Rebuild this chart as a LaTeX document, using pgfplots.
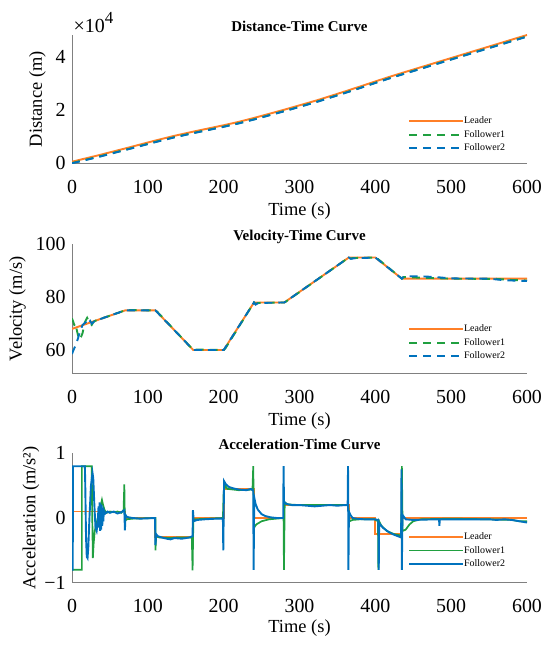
\documentclass[border=0pt]{standalone}
\usepackage{fontspec}
\setmainfont{Liberation Serif}
\usepackage{pgfplots}
\pgfplotsset{compat=1.18}
\definecolor{cL}{RGB}{255,127,39}
\definecolor{cF1}{RGB}{32,160,64}
\definecolor{cF2}{RGB}{0,114,189}
\definecolor{axgray}{RGB}{128,128,128}
\pgfplotsset{
 myaxis/.style={
  scale only axis, width=455bp, xmin=0, xmax=600,
  axis lines=left, axis line style={-, draw=axgray, line width=0.9bp},
  major tick length=0pt, clip mode=individual,
  xtick={0,100,200,300,400,500,600}, xticklabels={0,100,200,300,400,500,600},
  tick label style={font=\fontsize{20}{20}\selectfont},
  xticklabel style={yshift=-13bp},
  yticklabel style={xshift=-3bp},
  label style={font=\fontsize{18.5}{18.5}\selectfont},
  xlabel={Time (s)},
  xlabel style={at={(axis description cs:0.5,0)}, anchor=center, yshift=-48bp},
  title style={font=\bfseries\fontsize{15}{15}\selectfont, at={(axis description cs:0.5,1)}, anchor=base, yshift=-2bp},
  legend style={draw=none, fill=none, font=\fontsize{10}{10}\selectfont, inner sep=0pt,
    nodes={inner sep=0pt, text height=7bp, text depth=2bp}, row sep=4.6bp,
    /tikz/every even column/.append style={column sep=4bp}},
  legend cell align=left,
  legend image code/.code={\draw[#1] (0bp,0bp) -- (54bp,0bp);},
 }
}
\begin{document}
\begin{tikzpicture}
\useasboundingbox (0,0) rectangle (550bp,-646bp);
% ---------------- Distance ----------------
\begin{axis}[myaxis, at={(72bp,-163.3bp)}, anchor=south west, height=128.3bp,
  ymin=0, ymax=48477, ytick={0,20000,40000}, yticklabels={0,2,4}, scaled y ticks=false,
  ylabel={Distance (m)}, ylabel style={at={(axis description cs:-0.0758,0.5)}, anchor=center},
  title={Distance-Time Curve},
  legend style={at={(rel axis cs:0.7385,0.365)}, anchor=north west}]
\addplot[cL, line width=1.9bp] coordinates {
(0,600) (35,3041) (70,5605) (110,8605) (135,10386) (160,11980) (200,14380) (220,15670) (240,17140)
(280,20260) (322.5,23756) (365,27612) (400,30937) (417.5,32565) (435,34122) (500,39777) (600,48477)};
\addplot[cF1, line width=1.9bp, dash pattern=on 8bp off 6bp] coordinates {
(0,100) (35,2521) (70,5090) (110,8100) (135,9881) (160,11475) (200,13875) (220,15165) (240,16635)
(280,19755) (322.5,23251) (365,27107) (400,30432) (417.5,32060) (435,33617) (500,39280) (600,47955)};
\addplot[cF2, line width=1.9bp, dash pattern=on 8bp off 6bp] coordinates {
(0,0) (35,2390) (70,4990) (110,8000) (135,9781) (160,11375) (200,13775) (220,15065) (240,16535)
(280,19655) (322.5,23151) (365,27007) (400,30332) (417.5,31960) (435,33517) (500,39190) (600,47850)};
\legend{Leader,Follower1,Follower2}
\node[anchor=base west, inner sep=0pt, font=\fontsize{20}{20}\selectfont] at (rel axis cs:0,1) [xshift=1.5bp, yshift=2bp] {×10\raisebox{9.5bp}{\fontsize{17}{17}\selectfont 4}};
\end{axis}
% ---------------- Velocity ----------------
\begin{axis}[myaxis, at={(72bp,-373.3bp)}, anchor=south west, height=129bp,
  ymin=51.2, ymax=100, ytick={60,80,100}, yticklabels={60,80,100},
  ylabel={Velocity (m/s)}, ylabel style={at={(axis description cs:-0.1196,0.5)}, anchor=center},
  title={Velocity-Time Curve},
  legend style={at={(rel axis cs:0.7385,0.38)}, anchor=north west}]
\addplot[cL, line width=1.9bp] coordinates {
(0,68) (70,75) (110,75) (160,60) (200,60) (240,78) (280,78) (365,95) (400,95) (435,87) (600,87)};
\addplot[cF1, line width=1.9bp, dash pattern=on 8bp off 6bp] coordinates {
(0,72) (3,69.5) (5,70) (6,68) (8,65.5) (10,64) (12,65) (14,66.5) (17,70.5) (20,72.2) (23,70.5) (26,69.5)
(28,70.5) (30,71) (35,71.6) (40,72) (50,73) (60,74) (70,75) (72,75.2) (75,75.1) (110,75) (112,74.6)
(160,60) (162,60.2) (200,60) (202,60.5) (240,78) (242,77.4) (245,77.8) (280,78) (282,78.3) (365,95)
(367,94.6) (370,94.8) (400,95) (402,94.8) (435,87) (437,87.6) (445,87.5) (480,87.2) (500,87)
(560,86.9) (580,86.5) (600,86.3)};
\addplot[cF2, line width=1.9bp, dash pattern=on 8bp off 6bp] coordinates {
(0,58.5) (2,60) (5,62) (8,64.5) (10,66.5) (12,68) (14,69.5) (16,70) (18,70.5) (20,69.5) (22,70)
(24,71) (26,70) (28,70.5) (30,71) (35,71.5) (40,72) (50,73) (60,74) (70,75) (110,75) (160,60)
(200,60) (240,78) (242,77.2) (246,77.8) (280,78) (365,95) (368,94.5) (372,94.7) (400,95) (435,87)
(437,87.6) (440,87.9) (460,87.9) (480,87.6) (500,87.1) (550,87) (570,86.4) (600,86.1)};
\legend{Leader,Follower1,Follower2}
\end{axis}
% ---------------- Acceleration ----------------
\begin{axis}[myaxis, at={(72bp,-582.7bp)}, anchor=south west, height=129.4bp,
  ymin=-1, ymax=1, ytick={-1,0,1}, yticklabels={−1,0,1},
  ylabel={Acceleration (m/s²)}, ylabel style={at={(axis description cs:-0.0905,0.5)}, anchor=center},
  xlabel style={yshift=3bp},
  title={Acceleration-Time Curve},
  legend style={at={(rel axis cs:0.7385,0.39)}, anchor=north west}]
\addplot[cL, line width=1.9bp] coordinates {
(0,0.1) (70,0.1) (70,0) (110,0) (110,-0.3) (160,-0.3) (160,0) (200,0) (200,0.45) (240,0.45) (240,0)
(280,0) (280,0.2) (365,0.2) (365,0) (400,0) (400,-0.25) (435,-0.25) (435,0) (600,0)};
\addplot[cF1, line width=1.7bp] coordinates {
(0,-0.8) (13,-0.8) (13,0.8) (26,0.8) (26.5,0.2) (27.5,-0.62) (28.5,-0.4) (30,-0.2) (32,-0.1) (34,0.0)
(36,0.1) (38,0.2) (39.5,0.28) (41,0.2) (43,0.12) (46,0.08) (50,0.1) (55,0.09) (60,0.1) (65,0.08)
(68,0.12) (69,0.52) (69.5,0.1) (70,-0.05) (72,-0.02) (80,-0.01) (110,0) (110,-0.5) (111,-0.28) (115,-0.3)
(130,-0.31) (140,-0.3) (158,-0.3) (159,-0.81) (160,-0.05) (162,-0.02) (180,-0.01) (199,0) (200,0.4)
(202,0.5) (205,0.45) (220,0.43) (238,0.44) (239,0.8) (240,-0.15) (243,-0.1) (250,-0.05) (260,-0.02)
(279,0) (279.5,-0.8) (280.5,0.24) (285,0.21) (300,0.2) (320,0.2) (340,0.2) (364,0.2) (365,0.1)
(366,-0.05) (370,-0.03) (380,-0.02) (399,-0.02) (403.5,-0.05) (404,-0.8) (405,-0.05) (408,-0.12)
(415,-0.2) (425,-0.25) (434,-0.27) (435,0.8) (436,-0.2) (440,-0.18) (445,-0.1) (450,-0.05) (460,-0.02)
(500,-0.01) (550,-0.02) (580,-0.03) (590,-0.05) (600,-0.05)};
\addplot[cF2, line width=1.9bp] coordinates {
(0,-0.8) (1,-0.8) (1.2,0.8) (17,0.8) (17.5,0.5) (18.5,-0.3) (19.5,-0.6) (20.5,-0.62) (21.5,-0.45)
(23,0) (25,0.5) (27,0.7) (28,0.62) (29.5,0.2) (31,-0.15) (32.5,-0.2) (34,-0.05) (35,0.18) (35.7,-0.15)
(36.4,0.24) (37.1,-0.2) (37.8,0.22) (38.5,-0.18) (39.2,0.2) (39.9,-0.12) (40.6,0.16) (41.3,-0.05)
(42,0.12) (44,0.07) (47,0.1) (50,0.08) (55,0.1) (60,0.07) (65,0.09) (69,0.12) (69.8,-0.19) (70.5,0.05)
(72,0.02) (75,0.01) (80,0) (90,-0.01) (109.5,0) (110,-0.42) (111,-0.25) (113,-0.28) (118,-0.3)
(125,-0.32) (130,-0.33) (135,-0.31) (145,-0.32) (155,-0.3) (159,-0.28) (159.5,0.12) (160.5,-0.05)
(165,-0.03) (175,-0.02) (190,-0.01) (199,-0.01) (199.5,-0.5) (200.5,0.57) (203,0.52) (207,0.48)
(212,0.46) (220,0.44) (230,0.43) (236,0.45) (239,0.42) (239.5,-0.8) (240.3,0.32) (242,0.22) (245,0.13)
(250,0.06) (255,0.03) (262,0.01) (270,0) (278.5,0) (279,0.8) (279.5,0.26) (282,0.22) (290,0.2)
(300,0.2) (310,0.19) (320,0.18) (330,0.19) (340,0.2) (350,0.19) (360,0.2) (363.5,0.2) (364,0.8)
(364.5,-0.8) (365.2,0.1) (367,0.05) (370,0.0) (375,-0.01) (385,-0.02) (395,-0.02) (399,-0.02)
(404,-0.03) (404.5,-0.8) (405,-0.08) (410,-0.15) (418,-0.22) (425,-0.26) (434,-0.3) (434.5,0.75)
(435,-0.8) (435.7,0.05) (440,-0.02) (450,-0.03) (480,-0.02) (484,-0.02) (484.5,-0.12) (485,-0.02)
(520,-0.02) (550,-0.02) (560,-0.03) (570,-0.02) (580,-0.03) (590,-0.05) (600,-0.07)};
\legend{Leader,Follower1,Follower2}
\end{axis}
\end{tikzpicture}
\end{document}
